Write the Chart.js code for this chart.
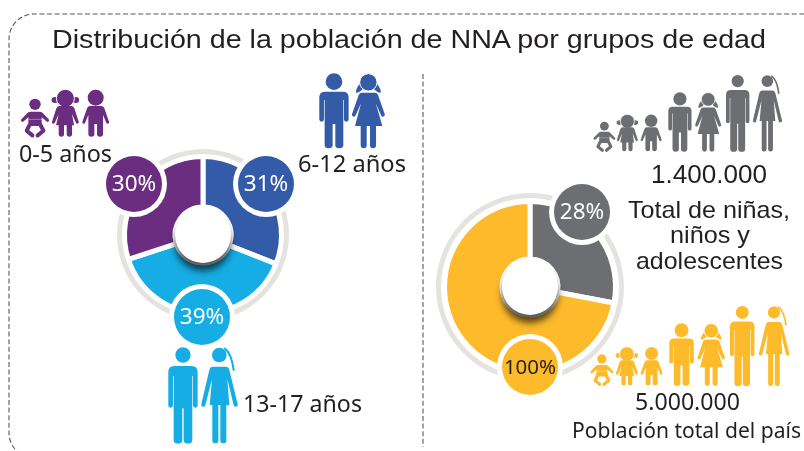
<!DOCTYPE html>
<html lang="es">
<head>
<meta charset="utf-8">
<title>Distribución de la población de NNA por grupos de edad</title>
<script src="https://cdn.jsdelivr.net/npm/chart.js@4"></script>
<style>
html,body{margin:0;padding:0;background:#fff;width:804px;height:451px;overflow:hidden}
canvas{position:absolute;top:0}
#left{left:0}
#right{left:424px}
svg{position:absolute;left:0;top:0;pointer-events:none}
text{font-family:"Noto Sans",sans-serif;fill:#231f20}
text.h{font-family:"Liberation Sans",sans-serif}
</style>
</head>
<body>
<canvas id="left" width="424" height="451"></canvas>
<canvas id="right" width="380" height="451"></canvas>
<svg id="art" width="804" height="451" viewBox="0 0 804 451"></svg>
<script>
// ---- data ----
const ageGroups = ['6-12 años', '13-17 años', '0-5 años'];
const ageShares = [31, 39, 30];
const ageBadges = ['31%', '39%', '30%'];
const populationGroups = ['Total de niñas, niños y adolescentes', 'Resto de la población'];
const populationShares = [28, 72];
const populationBadges = ['28%', '100%'];
const fullRing = [100];

// ---- colours ----
const PURPLE = '#6b2d7f', BLUE = '#345ba8', CYAN = '#16ade4', GREY = '#6d6e71', YELLOW = '#fdbb2b', RING = '#e5e3df';

// ---- doughnut plugin: hole with drop shadow + round badges ----
const decor = {
  id: 'decor',
  afterDraw(chart, args, o) {
    const ctx = chart.ctx;
    const arc = chart.getDatasetMeta(2).data[0];
    const cx = arc.x, cy = arc.y;
    ctx.save();
    ctx.shadowColor = 'rgba(0,0,0,.65)';
    ctx.shadowBlur = 7;
    ctx.shadowOffsetY = 8;
    ctx.fillStyle = '#fff';
    ctx.beginPath(); ctx.arc(cx, cy, o.hole, 0, Math.PI * 2); ctx.fill();
    ctx.restore();
    o.badges.forEach(b => {
      const x = cx + b.dx, y = cy + b.dy;
      ctx.fillStyle = '#fff';
      ctx.beginPath(); ctx.arc(x, y, 33, 0, Math.PI * 2); ctx.fill();
      ctx.fillStyle = b.color;
      ctx.beginPath(); ctx.arc(x, y, 28, 0, Math.PI * 2); ctx.fill();
      ctx.fillStyle = b.ink;
      ctx.font = b.font + 'px "Noto Sans", sans-serif';
      ctx.textAlign = 'center';
      ctx.textBaseline = 'middle';
      ctx.fillText(b.label, x, y + 1);
    });
  }
};

function doughnut(id, labels, values, colors, c) {
  const canvas = document.getElementById(id);
  const side = 2 * c.radius;
  return new Chart(canvas, {
    type: 'doughnut',
    data: {
      labels,
      datasets: [
        { data: fullRing, backgroundColor: RING, borderWidth: 0, weight: 5 },
        { data: fullRing, backgroundColor: 'rgba(0,0,0,0)', borderWidth: 0, weight: c.spacer },
        { data: values, backgroundColor: colors, borderColor: '#fff', borderWidth: 5,
          weight: c.radius - 5 - c.spacer - c.hole }
      ]
    },
    options: {
      responsive: false,
      animation: false,
      events: [],
      cutout: c.hole,
      layout: { padding: {
        left: c.cx - side / 2, right: canvas.width - c.cx - side / 2,
        top: c.cy - side / 2, bottom: canvas.height - c.cy - side / 2 } },
      plugins: { legend: { display: false }, tooltip: { enabled: false },
        decor: { hole: c.hole, badges: c.badges } }
    },
    plugins: [decor]
  });
}

doughnut('left', ageGroups, ageShares, [BLUE, CYAN, PURPLE], {
  cx: 203, cy: 235, radius: 86, hole: 28, spacer: 2.5,
  badges: [
    { dx: 63, dy: -51, color: BLUE, ink: '#fff', font: 22.5, label: ageBadges[0] },
    { dx: -1, dy: 82, color: CYAN, ink: '#fff', font: 22.5, label: ageBadges[1] },
    { dx: -69, dy: -51, color: PURPLE, ink: '#fff', font: 22.5, label: ageBadges[2] }
  ]
});
doughnut('right', populationGroups, populationShares, [GREY, YELLOW], {
  cx: 106, cy: 287, radius: 94, hole: 28, spacer: 3.5,
  badges: [
    { dx: 52, dy: -75, color: GREY, ink: '#fff', font: 22.5, label: populationBadges[0] },
    { dx: 0, dy: 80, color: YELLOW, ink: '#231f20', font: 20.5, label: populationBadges[1] }
  ]
});

// ---- pictograms: each has its bounding-box origin so it can be placed on the page ----
const SHAPES = {
  man: { x: 55, y: 22, svg: `<circle cx="99" cy="45" r="23"/>
    <path d="M55 96Q55 78 73 78H125Q143 78 143 96V196A7 7 0 0 1 129 196V108H127V300A12 10 0 0 1 101 300V205H97V300A12 10 0 0 1 71 300V108H69V196A7 7 0 0 1 55 196Z"/>` },
  woman: { x: 153, y: 22, svg: `<circle cx="208" cy="45" r="22"/>
    <path d="M225 26Q244 40 251 90" fill="none" stroke="currentColor" stroke-width="6" stroke-linecap="round"/>
    <path d="M188 80H228Q235 80 238 90L263 192A6 6 0 0 1 251 196L232 118L238 195H229V302A9 8 0 0 1 211 302V195H205V302A9 8 0 0 1 187 302V195H179L186 118L166 196A6 6 0 0 1 154 192L178 90Q181 80 188 80Z"/>` },
  boy: { x: 958, y: 220, svg: `<circle cx="1002" cy="245" r="25"/>
    <path d="M958 292Q958 275 975 275H1029Q1046 275 1046 292V358A7 7 0 0 1 1032 358V300H1030V436A12 9 0 0 1 1006 436V372H998V436A12 9 0 0 1 974 436V300H972V358A7 7 0 0 1 958 358Z"/>` },
  girl: { x: 1055, y: 220, svg: `<path d="M1080 250Q1066 268 1068 279Q1080 277 1088 268ZM1130 250Q1144 268 1142 279Q1130 277 1122 268Z"/>
    <circle cx="1105" cy="247" r="26" stroke="#fff" stroke-width="3"/>
    <path d="M1085 278H1125Q1131 278 1134 285L1154 342A5.5 5.5 0 0 1 1143 346L1127 310L1147 378H1128V436A9 9 0 0 1 1110 436V378H1100V436A9 9 0 0 1 1082 436V378H1065L1083 310L1067 346A5.5 5.5 0 0 1 1056 342L1076 285Q1079 278 1085 278Z"/>` },
  baby: { x: 65, y: 296, svg: `<circle cx="105" cy="313" r="17"/>
    <path d="M92 335H118Q124 335 128 339L146 358A4.5 4.5 0 0 1 139 364L125 352V378H85V352L71 364A4.5 4.5 0 0 1 64 358L82 339Q86 335 92 335Z"/>
    <path d="M88 376L80 392L97 406M122 376L130 392L113 406" fill="none" stroke="currentColor" stroke-width="12" stroke-linejoin="round" stroke-linecap="round"/>
    <path d="M85 358H125" fill="none" stroke="#fff" stroke-width="2" opacity=".55"/>` },
  toddlerGirl: { x: 155, y: 268, svg: `<ellipse cx="165" cy="300" rx="10.5" ry="9"/><ellipse cx="227" cy="300" rx="10.5" ry="9"/>
    <circle cx="196" cy="295" r="27" stroke="#fff" stroke-width="3"/>
    <path d="M178 318H214Q220 318 223 325L236 365A4.5 4.5 0 0 1 228 369L216 342L222 376H216V402A8 8 0 0 1 200 402V376H192V402A8 8 0 0 1 176 402V376H168L176 342L164 369A4.5 4.5 0 0 1 156 365L169 325Q172 318 178 318Z"/>` },
  toddlerBoy: { x: 248, y: 268, svg: `<circle cx="287" cy="293" r="24"/>
    <path d="M270 318H304Q310 318 313 325L327 365A4.5 4.5 0 0 1 319 369L309 345V402A9 8 0 0 1 291 402V372H283V402A9 8 0 0 1 265 402V345L255 369A4.5 4.5 0 0 1 247 365L261 325Q264 318 270 318Z"/>` }
};
// [shape, page x, page y, scale]
const KIDS = {
  purple: [['baby', 21.7, 98.7, 1/3], ['toddlerGirl', 51.7, 89.3, 1/3], ['toddlerBoy', 82.7, 89.3, 1/3]],
  blue: [['boy', 319.3, 73.3, 1/3], ['girl', 351.7, 73.3, 1/3]],
  cyan: [['man', 168.3, 347.3, 1/3], ['woman', 201, 347.3, 1/3]],
  grey: [['baby', 594, 121.7, .26], ['toddlerGirl', 616.7, 114.3, .26], ['toddlerBoy', 641, 114.3, .26],
         ['boy', 668.3, 92.3, .264], ['girl', 695, 92.3, .264], ['man', 726, 75, .266], ['woman', 752.7, 75, .266]],
  yellow: [['baby', 591, 354.3, .272], ['toddlerGirl', 615.7, 346.7, .272], ['toddlerBoy', 641, 346.7, .272],
           ['boy', 669.3, 323.3, .278], ['girl', 697.3, 323.3, .278], ['man', 730, 306, .278], ['woman', 758.7, 306, .278]]
};
const KID_COLORS = { purple: PURPLE, blue: BLUE, cyan: CYAN, grey: GREY, yellow: YELLOW };

// ---- texts: [string, x, baseline, size, fitted width, class] ----
const TEXTS = [
  ['Distribución de la población de NNA por grupos de edad', 52, 48, 26, 714, 'h'],
  ['0-5 años', 19, 162, 24, 93, ''],
  ['6-12 años', 298, 172, 24, 108, ''],
  ['13-17 años', 243, 411.5, 24, 119, ''],
  ['1.400.000', 651, 183, 25, 116, 'h'],
  ['Total de niñas,', 628, 218, 24, 162, 'h'],
  ['niños y', 670, 243, 24, 80, 'h'],
  ['adolescentes', 636, 269, 24, 147, 'h'],
  ['5.000.000', 635, 410, 24, 105, ''],
  ['Población total del país', 572, 438, 22.5, 229, '']
];

let art = `<path d="M812 14H34A25 25 0 0 0 9 39V433A25 25 0 0 0 34 458" fill="none" stroke="#58595b" stroke-width="1.1" stroke-dasharray="5 2.6"/>
<path d="M423 74V447" fill="none" stroke="#58595b" stroke-width="1.1" stroke-dasharray="5 2.6"/>`;
for (const [name, list] of Object.entries(KIDS)) {
  for (const [shape, px, py, s] of list) {
    const d = SHAPES[shape];
    art += `<g style="color:${KID_COLORS[name]}" fill="currentColor" transform="translate(${px} ${py}) scale(${s}) translate(${-d.x} ${-d.y})">${d.svg}</g>`;
  }
}
for (const [str, x, y, size, w, cls] of TEXTS) {
  art += `<text class="${cls}" x="${x}" y="${y}" font-size="${size}" textLength="${w}" lengthAdjust="spacingAndGlyphs">${str}</text>`;
}
document.getElementById('art').innerHTML = art;
</script>
</body>
</html>
